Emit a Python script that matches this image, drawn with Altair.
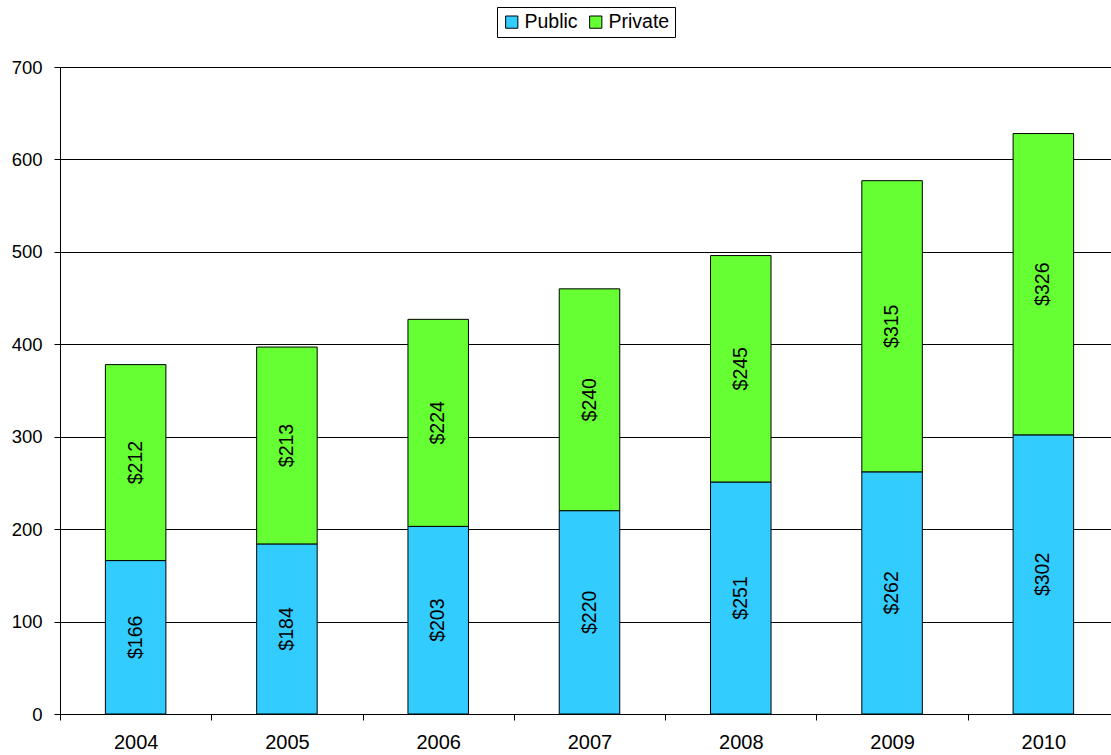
import altair as alt
import pandas as pd

years = ["2004", "2005", "2006", "2007", "2008", "2009", "2010"]
public = [166, 184, 203, 220, 251, 262, 302]
private = [212, 213, 224, 240, 245, 315, 326]
series = ["Public", "Private"]
colors = ["#33CCFF", "#66FF33"]

rows = []
for i, y in enumerate(years):
    for k, (name, vals) in enumerate(zip(series, [public, private])):
        rows.append({"year": y, "series": name, "value": vals[i], "ord": k,
                     "label": f"${vals[i]}"})
df = pd.DataFrame(rows)

FONT = "Liberation Sans"
XRANGE = 1059
STEP = XRANGE / (7 - 0.6 + 2 * 0.3)

x = alt.X("year:N", title=None,
          scale=alt.Scale(paddingInner=0.6, paddingOuter=0.3, range=[0, XRANGE]),
          axis=alt.Axis(labelAngle=0, labelFontSize=20, labelFont=FONT,
                        labelColor="black", tickSize=6, tickOffset=-STEP / 2,
                        labelOffset=STEP / 2,
                        tickColor="black", domainColor="black",
                        labelPadding=12, grid=False))

bars = alt.Chart(df).mark_bar(stroke="black", strokeWidth=1).encode(
    x=x,
    y=alt.Y("value:Q", stack="zero", title=None,
            scale=alt.Scale(domain=[0, 700]),
            axis=alt.Axis(values=[0, 100, 200, 300, 400, 500, 600, 700],
                          labelFontSize=18.5, labelFont=FONT, labelColor="black",
                          tickSize=6, tickColor="black", domainColor="black",
                          gridColor="black", gridOpacity=1, labelPadding=12)),
    color=alt.Color("series:N",
                    scale=alt.Scale(domain=series, range=colors),
                    sort=series,
                    legend=alt.Legend(title=None, orient="none", direction="horizontal",
                                      legendX=437, legendY=-60,
                                      labelFontSize=19.5, labelFont=FONT, labelColor="black",
                                      symbolType="square", symbolSize=150,
                                      symbolStrokeColor="black", symbolStrokeWidth=1,
                                      strokeColor="black", padding=5,
                                      columnPadding=8, labelOffset=3)),
    order=alt.Order("ord:Q"),
)

texts = alt.Chart(df).transform_stack(
    stack="value", groupby=["year"], as_=["v0", "v1"],
    sort=[alt.SortField("ord", order="ascending")]
).transform_calculate(mid="(datum.v0 + datum.v1) / 2").mark_text(
    angle=270, fontSize=19.5, font=FONT, color="black", align="center", baseline="middle"
).encode(
    x=alt.X("year:N"),
    y=alt.Y("mid:Q"),
    text="label:N",
)

chart = alt.layer(bars, texts).properties(
    width=1051, height=647,
    autosize=alt.AutoSizeParams(type="none"),
    padding={"left": 60, "top": 67, "right": 0, "bottom": 41},
).configure_view(stroke=None).configure_axis(gridWidth=1)

chart.save("out.html", embed_options={"renderer": "svg", "actions": False})
